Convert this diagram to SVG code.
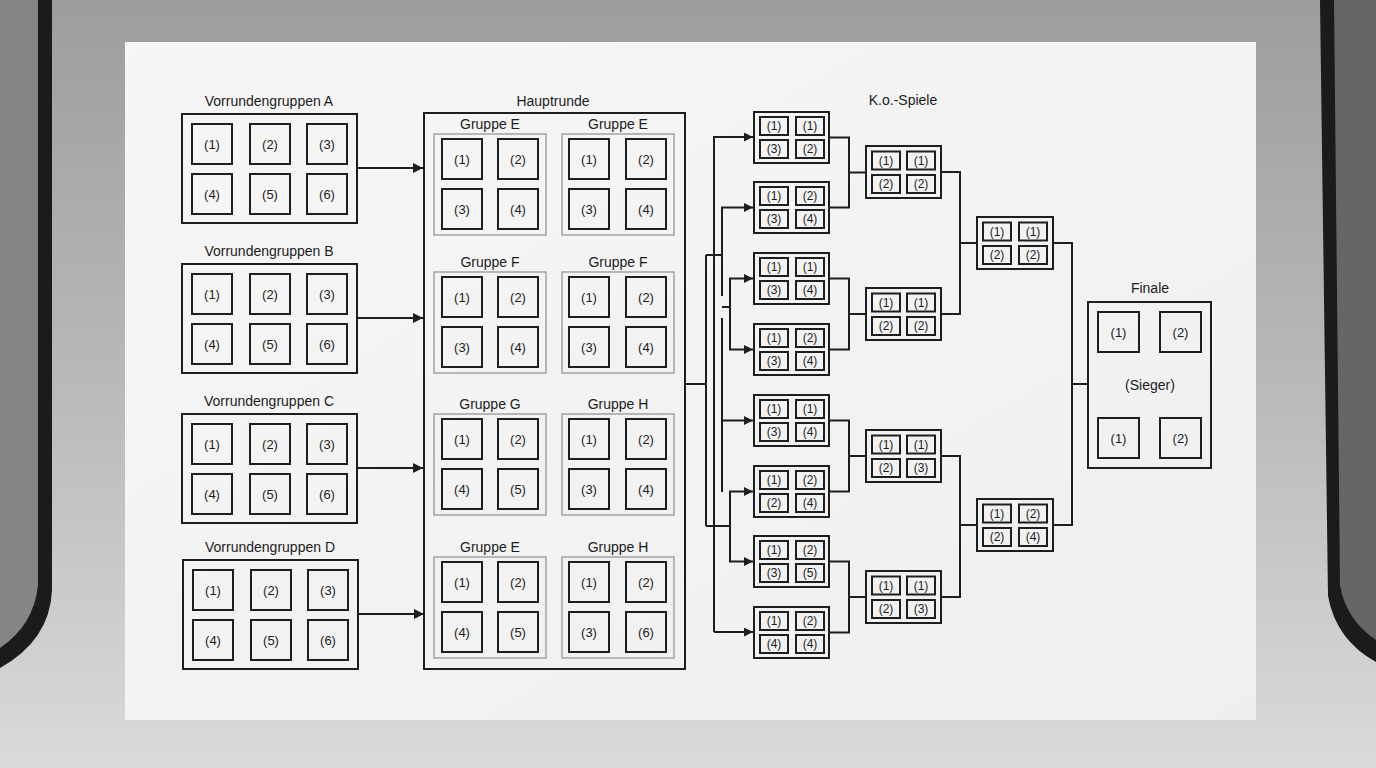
<svg xmlns="http://www.w3.org/2000/svg" width="1376" height="768" viewBox="0 0 1376 768">
<defs>
<linearGradient id="bg" x1="0" y1="0" x2="0" y2="1">
<stop offset="0" stop-color="#9d9d9d"/>
<stop offset="0.5" stop-color="#b9b9b9"/>
<stop offset="1" stop-color="#dadada"/>
</linearGradient>
<linearGradient id="paper" x1="0" y1="0" x2="1" y2="1">
<stop offset="0" stop-color="#f6f6f6"/>
<stop offset="1" stop-color="#efefef"/>
</linearGradient>
<marker id="ah" viewBox="0 0 10 10" refX="10" refY="5" markerWidth="11" markerHeight="9" markerUnits="userSpaceOnUse" orient="auto">
<path d="M0,0 L10,5 L0,10 z" fill="#1e1e1e"/>
</marker>
<marker id="ahb" viewBox="0 0 10 10" refX="10" refY="5" markerWidth="11" markerHeight="10" markerUnits="userSpaceOnUse" orient="auto">
<path d="M0,0 L10,5 L0,10 z" fill="#1e1e1e"/>
</marker>
</defs>
<style>
.box{fill:none;stroke:#1e1e1e;stroke-width:2}
.cell{fill:none;stroke:#1e1e1e;stroke-width:2}
.panel{fill:none;stroke:#a2a2a2;stroke-width:1.5}
.ln{fill:none;stroke:#1e1e1e;stroke-width:2}
.t{font-family:"Liberation Sans",Arial,sans-serif;fill:#1c1c1c;text-anchor:middle}
.ti{font-size:14px}
.lb{font-size:13px}
.sm{font-size:12px}
</style>
<!-- photo background -->
<rect x="0" y="0" width="1376" height="768" fill="url(#bg)"/>
<path d="M0 0 H52 V590 Q50 640 0 668 Z" fill="#1b1b1b"/>
<path d="M0 0 H38 V585 Q34 625 0 648 Z" fill="#858585"/>
<path d="M1320 0 H1376 V662 Q1336 640 1328 596 Z" fill="#1b1b1b"/>
<path d="M1334 0 H1376 V640 Q1346 620 1340 585 Z" fill="#666666"/>
<rect x="125" y="42" width="1131" height="678" fill="url(#paper)"/>

<!-- connectors -->
<g id="connectors">
<path class="ln" d="M358 168 H423" marker-end="url(#ahb)"/>
<path class="ln" d="M358 318 H423" marker-end="url(#ahb)"/>
<path class="ln" d="M358 468 H423" marker-end="url(#ahb)"/>
<path class="ln" d="M359 614 H424" marker-end="url(#ahb)"/>

<path class="ln" d="M685 384 H706"/>
<path class="ln" d="M706 255 V526"/>
<path class="ln" d="M714 632 V137 H753" marker-end="url(#ah)"/>
<path class="ln" d="M714 632 H753" marker-end="url(#ah)"/>
<path class="ln" d="M706 255 H722"/>
<path class="ln" d="M722 296 V207.5 H753" marker-end="url(#ah)"/>
<path class="ln" d="M722 307 H730"/>
<path class="ln" d="M730 307 V278.5 H753" marker-end="url(#ah)"/>
<path class="ln" d="M730 307 V349.5 H753" marker-end="url(#ah)"/>
<path class="ln" d="M722 318 V492"/>
<path class="ln" d="M722 420.5 H753" marker-end="url(#ah)"/>
<path class="ln" d="M706 526 H730"/>
<path class="ln" d="M730 526 V491.5 H753" marker-end="url(#ah)"/>
<path class="ln" d="M730 526 V561.5 H753" marker-end="url(#ah)"/>

<path class="ln" d="M829 137.5 H849 V207.5 H829 M849 172.5 H866"/>
<path class="ln" d="M829 278.5 H849 V349.5 H829 M849 314 H866"/>
<path class="ln" d="M829 420.5 H849 V491.5 H829 M849 456 H866"/>
<path class="ln" d="M829 561.5 H849 V632.5 H829 M849 597 H866"/>
<path class="ln" d="M941 172 H960 V314 H941 M960 243 H977"/>
<path class="ln" d="M941 456 H960 V597 H941 M960 525 H977"/>
<path class="ln" d="M1053 243 H1072 V525 H1053 M1072 384 H1088"/>
</g>

<!-- Vorrundengruppen -->
<g id="vorrunde-a">
<text class="t ti" x="269" y="106">Vorrundengruppen A</text>
<rect class="box" x="182" y="114" width="175" height="109"/>
<rect class="cell" x="192" y="124" width="40" height="40"/><rect class="cell" x="250" y="124" width="40" height="40"/><rect class="cell" x="307" y="124" width="40" height="40"/>
<rect class="cell" x="192" y="174" width="40" height="40"/><rect class="cell" x="250" y="174" width="40" height="40"/><rect class="cell" x="307" y="174" width="40" height="40"/>
<text class="t lb" x="212" y="148.5">(1)</text><text class="t lb" x="270" y="148.5">(2)</text><text class="t lb" x="327" y="148.5">(3)</text>
<text class="t lb" x="212" y="198.5">(4)</text><text class="t lb" x="270" y="198.5">(5)</text><text class="t lb" x="327" y="198.5">(6)</text>
</g>
<g id="vorrunde-b">
<text class="t ti" x="269" y="256">Vorrundengruppen B</text>
<rect class="box" x="182" y="264" width="175" height="109"/>
<rect class="cell" x="192" y="274" width="40" height="40"/><rect class="cell" x="250" y="274" width="40" height="40"/><rect class="cell" x="307" y="274" width="40" height="40"/>
<rect class="cell" x="192" y="324" width="40" height="40"/><rect class="cell" x="250" y="324" width="40" height="40"/><rect class="cell" x="307" y="324" width="40" height="40"/>
<text class="t lb" x="212" y="298.5">(1)</text><text class="t lb" x="270" y="298.5">(2)</text><text class="t lb" x="327" y="298.5">(3)</text>
<text class="t lb" x="212" y="348.5">(4)</text><text class="t lb" x="270" y="348.5">(5)</text><text class="t lb" x="327" y="348.5">(6)</text>
</g>
<g id="vorrunde-c">
<text class="t ti" x="269" y="406">Vorrundengruppen C</text>
<rect class="box" x="182" y="414" width="175" height="109"/>
<rect class="cell" x="192" y="424" width="40" height="40"/><rect class="cell" x="250" y="424" width="40" height="40"/><rect class="cell" x="307" y="424" width="40" height="40"/>
<rect class="cell" x="192" y="474" width="40" height="40"/><rect class="cell" x="250" y="474" width="40" height="40"/><rect class="cell" x="307" y="474" width="40" height="40"/>
<text class="t lb" x="212" y="448.5">(1)</text><text class="t lb" x="270" y="448.5">(2)</text><text class="t lb" x="327" y="448.5">(3)</text>
<text class="t lb" x="212" y="498.5">(4)</text><text class="t lb" x="270" y="498.5">(5)</text><text class="t lb" x="327" y="498.5">(6)</text>
</g>
<g id="vorrunde-d">
<text class="t ti" x="270" y="552">Vorrundengruppen D</text>
<rect class="box" x="183" y="560" width="175" height="109"/>
<rect class="cell" x="193" y="570" width="40" height="40"/><rect class="cell" x="251" y="570" width="40" height="40"/><rect class="cell" x="308" y="570" width="40" height="40"/>
<rect class="cell" x="193" y="620" width="40" height="40"/><rect class="cell" x="251" y="620" width="40" height="40"/><rect class="cell" x="308" y="620" width="40" height="40"/>
<text class="t lb" x="213" y="594.5">(1)</text><text class="t lb" x="271" y="594.5">(2)</text><text class="t lb" x="328" y="594.5">(3)</text>
<text class="t lb" x="213" y="644.5">(4)</text><text class="t lb" x="271" y="644.5">(5)</text><text class="t lb" x="328" y="644.5">(6)</text>
</g>

<!-- Hauptrunde -->
<g id="hauptrunde">
<text class="t ti" x="553" y="106">Hauptrunde</text>
<rect class="box" x="424" y="113" width="261" height="556"/>
</g>
<g id="hr-e1">
<text class="t ti" x="490" y="129">Gruppe E</text>
<rect class="panel" x="434" y="134" width="112" height="101"/>
<rect class="cell" x="442" y="139" width="40" height="40"/><rect class="cell" x="498" y="139" width="40" height="40"/>
<rect class="cell" x="442" y="189" width="40" height="40"/><rect class="cell" x="498" y="189" width="40" height="40"/>
<text class="t lb" x="462" y="163.5">(1)</text><text class="t lb" x="518" y="163.5">(2)</text>
<text class="t lb" x="462" y="213.5">(3)</text><text class="t lb" x="518" y="213.5">(4)</text>
</g>
<g id="hr-e2">
<text class="t ti" x="618" y="129">Gruppe E</text>
<rect class="panel" x="562" y="134" width="112" height="101"/>
<rect class="cell" x="569" y="139" width="40" height="40"/><rect class="cell" x="626" y="139" width="40" height="40"/>
<rect class="cell" x="569" y="189" width="40" height="40"/><rect class="cell" x="626" y="189" width="40" height="40"/>
<text class="t lb" x="589" y="163.5">(1)</text><text class="t lb" x="646" y="163.5">(2)</text>
<text class="t lb" x="589" y="213.5">(3)</text><text class="t lb" x="646" y="213.5">(4)</text>
</g>
<g id="hr-f1">
<text class="t ti" x="490" y="267">Gruppe F</text>
<rect class="panel" x="434" y="272" width="112" height="101"/>
<rect class="cell" x="442" y="277" width="40" height="40"/><rect class="cell" x="498" y="277" width="40" height="40"/>
<rect class="cell" x="442" y="327" width="40" height="40"/><rect class="cell" x="498" y="327" width="40" height="40"/>
<text class="t lb" x="462" y="301.5">(1)</text><text class="t lb" x="518" y="301.5">(2)</text>
<text class="t lb" x="462" y="351.5">(3)</text><text class="t lb" x="518" y="351.5">(4)</text>
</g>
<g id="hr-f2">
<text class="t ti" x="618" y="267">Gruppe F</text>
<rect class="panel" x="562" y="272" width="112" height="101"/>
<rect class="cell" x="569" y="277" width="40" height="40"/><rect class="cell" x="626" y="277" width="40" height="40"/>
<rect class="cell" x="569" y="327" width="40" height="40"/><rect class="cell" x="626" y="327" width="40" height="40"/>
<text class="t lb" x="589" y="301.5">(1)</text><text class="t lb" x="646" y="301.5">(2)</text>
<text class="t lb" x="589" y="351.5">(3)</text><text class="t lb" x="646" y="351.5">(4)</text>
</g>
<g id="hr-g">
<text class="t ti" x="490" y="409">Gruppe G</text>
<rect class="panel" x="434" y="414" width="112" height="101"/>
<rect class="cell" x="442" y="419" width="40" height="40"/><rect class="cell" x="498" y="419" width="40" height="40"/>
<rect class="cell" x="442" y="469" width="40" height="40"/><rect class="cell" x="498" y="469" width="40" height="40"/>
<text class="t lb" x="462" y="443.5">(1)</text><text class="t lb" x="518" y="443.5">(2)</text>
<text class="t lb" x="462" y="493.5">(4)</text><text class="t lb" x="518" y="493.5">(5)</text>
</g>
<g id="hr-h1">
<text class="t ti" x="618" y="409">Gruppe H</text>
<rect class="panel" x="562" y="414" width="112" height="101"/>
<rect class="cell" x="569" y="419" width="40" height="40"/><rect class="cell" x="626" y="419" width="40" height="40"/>
<rect class="cell" x="569" y="469" width="40" height="40"/><rect class="cell" x="626" y="469" width="40" height="40"/>
<text class="t lb" x="589" y="443.5">(1)</text><text class="t lb" x="646" y="443.5">(2)</text>
<text class="t lb" x="589" y="493.5">(3)</text><text class="t lb" x="646" y="493.5">(4)</text>
</g>
<g id="hr-e3">
<text class="t ti" x="490" y="552">Gruppe E</text>
<rect class="panel" x="434" y="557" width="112" height="101"/>
<rect class="cell" x="442" y="562" width="40" height="40"/><rect class="cell" x="498" y="562" width="40" height="40"/>
<rect class="cell" x="442" y="612" width="40" height="40"/><rect class="cell" x="498" y="612" width="40" height="40"/>
<text class="t lb" x="462" y="586.5">(1)</text><text class="t lb" x="518" y="586.5">(2)</text>
<text class="t lb" x="462" y="636.5">(4)</text><text class="t lb" x="518" y="636.5">(5)</text>
</g>
<g id="hr-h2">
<text class="t ti" x="618" y="552">Gruppe H</text>
<rect class="panel" x="562" y="557" width="112" height="101"/>
<rect class="cell" x="569" y="562" width="40" height="40"/><rect class="cell" x="626" y="562" width="40" height="40"/>
<rect class="cell" x="569" y="612" width="40" height="40"/><rect class="cell" x="626" y="612" width="40" height="40"/>
<text class="t lb" x="589" y="586.5">(1)</text><text class="t lb" x="646" y="586.5">(2)</text>
<text class="t lb" x="589" y="636.5">(3)</text><text class="t lb" x="646" y="636.5">(6)</text>
</g>

<!-- K.o.-Spiele -->
<text class="t ti" x="903" y="105">K.o.-Spiele</text>
<g id="ko1-1"><rect class="box" x="754" y="112" width="75" height="51"/>
<rect class="cell" x="760" y="117" width="28" height="18"/><rect class="cell" x="796" y="117" width="28" height="18"/><rect class="cell" x="760" y="140" width="28" height="18"/><rect class="cell" x="796" y="140" width="28" height="18"/>
<text class="t sm" x="774" y="130">(1)</text><text class="t sm" x="810" y="130">(1)</text><text class="t sm" x="774" y="153">(3)</text><text class="t sm" x="810" y="153">(2)</text></g>
<g id="ko1-2"><rect class="box" x="754" y="182" width="75" height="51"/>
<rect class="cell" x="760" y="187" width="28" height="18"/><rect class="cell" x="796" y="187" width="28" height="18"/><rect class="cell" x="760" y="210" width="28" height="18"/><rect class="cell" x="796" y="210" width="28" height="18"/>
<text class="t sm" x="774" y="200">(1)</text><text class="t sm" x="810" y="200">(2)</text><text class="t sm" x="774" y="223">(3)</text><text class="t sm" x="810" y="223">(4)</text></g>
<g id="ko1-3"><rect class="box" x="754" y="253" width="75" height="51"/>
<rect class="cell" x="760" y="258" width="28" height="18"/><rect class="cell" x="796" y="258" width="28" height="18"/><rect class="cell" x="760" y="281" width="28" height="18"/><rect class="cell" x="796" y="281" width="28" height="18"/>
<text class="t sm" x="774" y="271">(1)</text><text class="t sm" x="810" y="271">(1)</text><text class="t sm" x="774" y="294">(3)</text><text class="t sm" x="810" y="294">(4)</text></g>
<g id="ko1-4"><rect class="box" x="754" y="324" width="75" height="51"/>
<rect class="cell" x="760" y="329" width="28" height="18"/><rect class="cell" x="796" y="329" width="28" height="18"/><rect class="cell" x="760" y="352" width="28" height="18"/><rect class="cell" x="796" y="352" width="28" height="18"/>
<text class="t sm" x="774" y="342">(1)</text><text class="t sm" x="810" y="342">(2)</text><text class="t sm" x="774" y="365">(3)</text><text class="t sm" x="810" y="365">(4)</text></g>
<g id="ko1-5"><rect class="box" x="754" y="395" width="75" height="51"/>
<rect class="cell" x="760" y="400" width="28" height="18"/><rect class="cell" x="796" y="400" width="28" height="18"/><rect class="cell" x="760" y="423" width="28" height="18"/><rect class="cell" x="796" y="423" width="28" height="18"/>
<text class="t sm" x="774" y="413">(1)</text><text class="t sm" x="810" y="413">(1)</text><text class="t sm" x="774" y="436">(3)</text><text class="t sm" x="810" y="436">(4)</text></g>
<g id="ko1-6"><rect class="box" x="754" y="466" width="75" height="51"/>
<rect class="cell" x="760" y="471" width="28" height="18"/><rect class="cell" x="796" y="471" width="28" height="18"/><rect class="cell" x="760" y="494" width="28" height="18"/><rect class="cell" x="796" y="494" width="28" height="18"/>
<text class="t sm" x="774" y="484">(1)</text><text class="t sm" x="810" y="484">(2)</text><text class="t sm" x="774" y="507">(2)</text><text class="t sm" x="810" y="507">(4)</text></g>
<g id="ko1-7"><rect class="box" x="754" y="536" width="75" height="51"/>
<rect class="cell" x="760" y="541" width="28" height="18"/><rect class="cell" x="796" y="541" width="28" height="18"/><rect class="cell" x="760" y="564" width="28" height="18"/><rect class="cell" x="796" y="564" width="28" height="18"/>
<text class="t sm" x="774" y="554">(1)</text><text class="t sm" x="810" y="554">(2)</text><text class="t sm" x="774" y="577">(3)</text><text class="t sm" x="810" y="577">(5)</text></g>
<g id="ko1-8"><rect class="box" x="754" y="607" width="75" height="51"/>
<rect class="cell" x="760" y="612" width="28" height="18"/><rect class="cell" x="796" y="612" width="28" height="18"/><rect class="cell" x="760" y="635" width="28" height="18"/><rect class="cell" x="796" y="635" width="28" height="18"/>
<text class="t sm" x="774" y="625">(1)</text><text class="t sm" x="810" y="625">(2)</text><text class="t sm" x="774" y="648">(4)</text><text class="t sm" x="810" y="648">(4)</text></g>

<g id="ko2-1"><rect class="box" x="866" y="146" width="75" height="52"/>
<rect class="cell" x="872" y="151.5" width="28" height="18"/><rect class="cell" x="907" y="151.5" width="28" height="18"/><rect class="cell" x="872" y="175" width="28" height="18"/><rect class="cell" x="907" y="175" width="28" height="18"/>
<text class="t sm" x="886" y="164.5">(1)</text><text class="t sm" x="921" y="164.5">(1)</text><text class="t sm" x="886" y="188">(2)</text><text class="t sm" x="921" y="188">(2)</text></g>
<g id="ko2-2"><rect class="box" x="866" y="288" width="75" height="52"/>
<rect class="cell" x="872" y="293.5" width="28" height="18"/><rect class="cell" x="907" y="293.5" width="28" height="18"/><rect class="cell" x="872" y="317" width="28" height="18"/><rect class="cell" x="907" y="317" width="28" height="18"/>
<text class="t sm" x="886" y="306.5">(1)</text><text class="t sm" x="921" y="306.5">(1)</text><text class="t sm" x="886" y="330">(2)</text><text class="t sm" x="921" y="330">(2)</text></g>
<g id="ko2-3"><rect class="box" x="866" y="430" width="75" height="52"/>
<rect class="cell" x="872" y="435.5" width="28" height="18"/><rect class="cell" x="907" y="435.5" width="28" height="18"/><rect class="cell" x="872" y="459" width="28" height="18"/><rect class="cell" x="907" y="459" width="28" height="18"/>
<text class="t sm" x="886" y="448.5">(1)</text><text class="t sm" x="921" y="448.5">(1)</text><text class="t sm" x="886" y="472">(2)</text><text class="t sm" x="921" y="472">(3)</text></g>
<g id="ko2-4"><rect class="box" x="866" y="571" width="75" height="52"/>
<rect class="cell" x="872" y="576.5" width="28" height="18"/><rect class="cell" x="907" y="576.5" width="28" height="18"/><rect class="cell" x="872" y="600" width="28" height="18"/><rect class="cell" x="907" y="600" width="28" height="18"/>
<text class="t sm" x="886" y="589.5">(1)</text><text class="t sm" x="921" y="589.5">(1)</text><text class="t sm" x="886" y="613">(2)</text><text class="t sm" x="921" y="613">(3)</text></g>

<g id="ko3-1"><rect class="box" x="977" y="217" width="76" height="52"/>
<rect class="cell" x="983" y="222.5" width="28" height="18"/><rect class="cell" x="1019" y="222.5" width="28" height="18"/><rect class="cell" x="983" y="246" width="28" height="18"/><rect class="cell" x="1019" y="246" width="28" height="18"/>
<text class="t sm" x="997" y="235.5">(1)</text><text class="t sm" x="1033" y="235.5">(1)</text><text class="t sm" x="997" y="259">(2)</text><text class="t sm" x="1033" y="259">(2)</text></g>
<g id="ko3-2"><rect class="box" x="977" y="499" width="76" height="52"/>
<rect class="cell" x="983" y="504.5" width="28" height="18"/><rect class="cell" x="1019" y="504.5" width="28" height="18"/><rect class="cell" x="983" y="528" width="28" height="18"/><rect class="cell" x="1019" y="528" width="28" height="18"/>
<text class="t sm" x="997" y="517.5">(1)</text><text class="t sm" x="1033" y="517.5">(2)</text><text class="t sm" x="997" y="541">(2)</text><text class="t sm" x="1033" y="541">(4)</text></g>

<g id="finale">
<text class="t ti" x="1150" y="293">Finale</text>
<rect class="box" x="1088" y="302" width="123" height="166"/>
<rect class="cell" x="1098" y="312" width="41" height="40"/><rect class="cell" x="1160" y="312" width="41" height="40"/>
<rect class="cell" x="1098" y="418" width="41" height="40"/><rect class="cell" x="1160" y="418" width="41" height="40"/>
<text class="t lb" x="1118.5" y="336.5">(1)</text><text class="t lb" x="1180.5" y="336.5">(2)</text>
<text class="t ti" x="1150" y="390">(Sieger)</text>
<text class="t lb" x="1118.5" y="442.5">(1)</text><text class="t lb" x="1180.5" y="442.5">(2)</text>
</g>
</svg>
